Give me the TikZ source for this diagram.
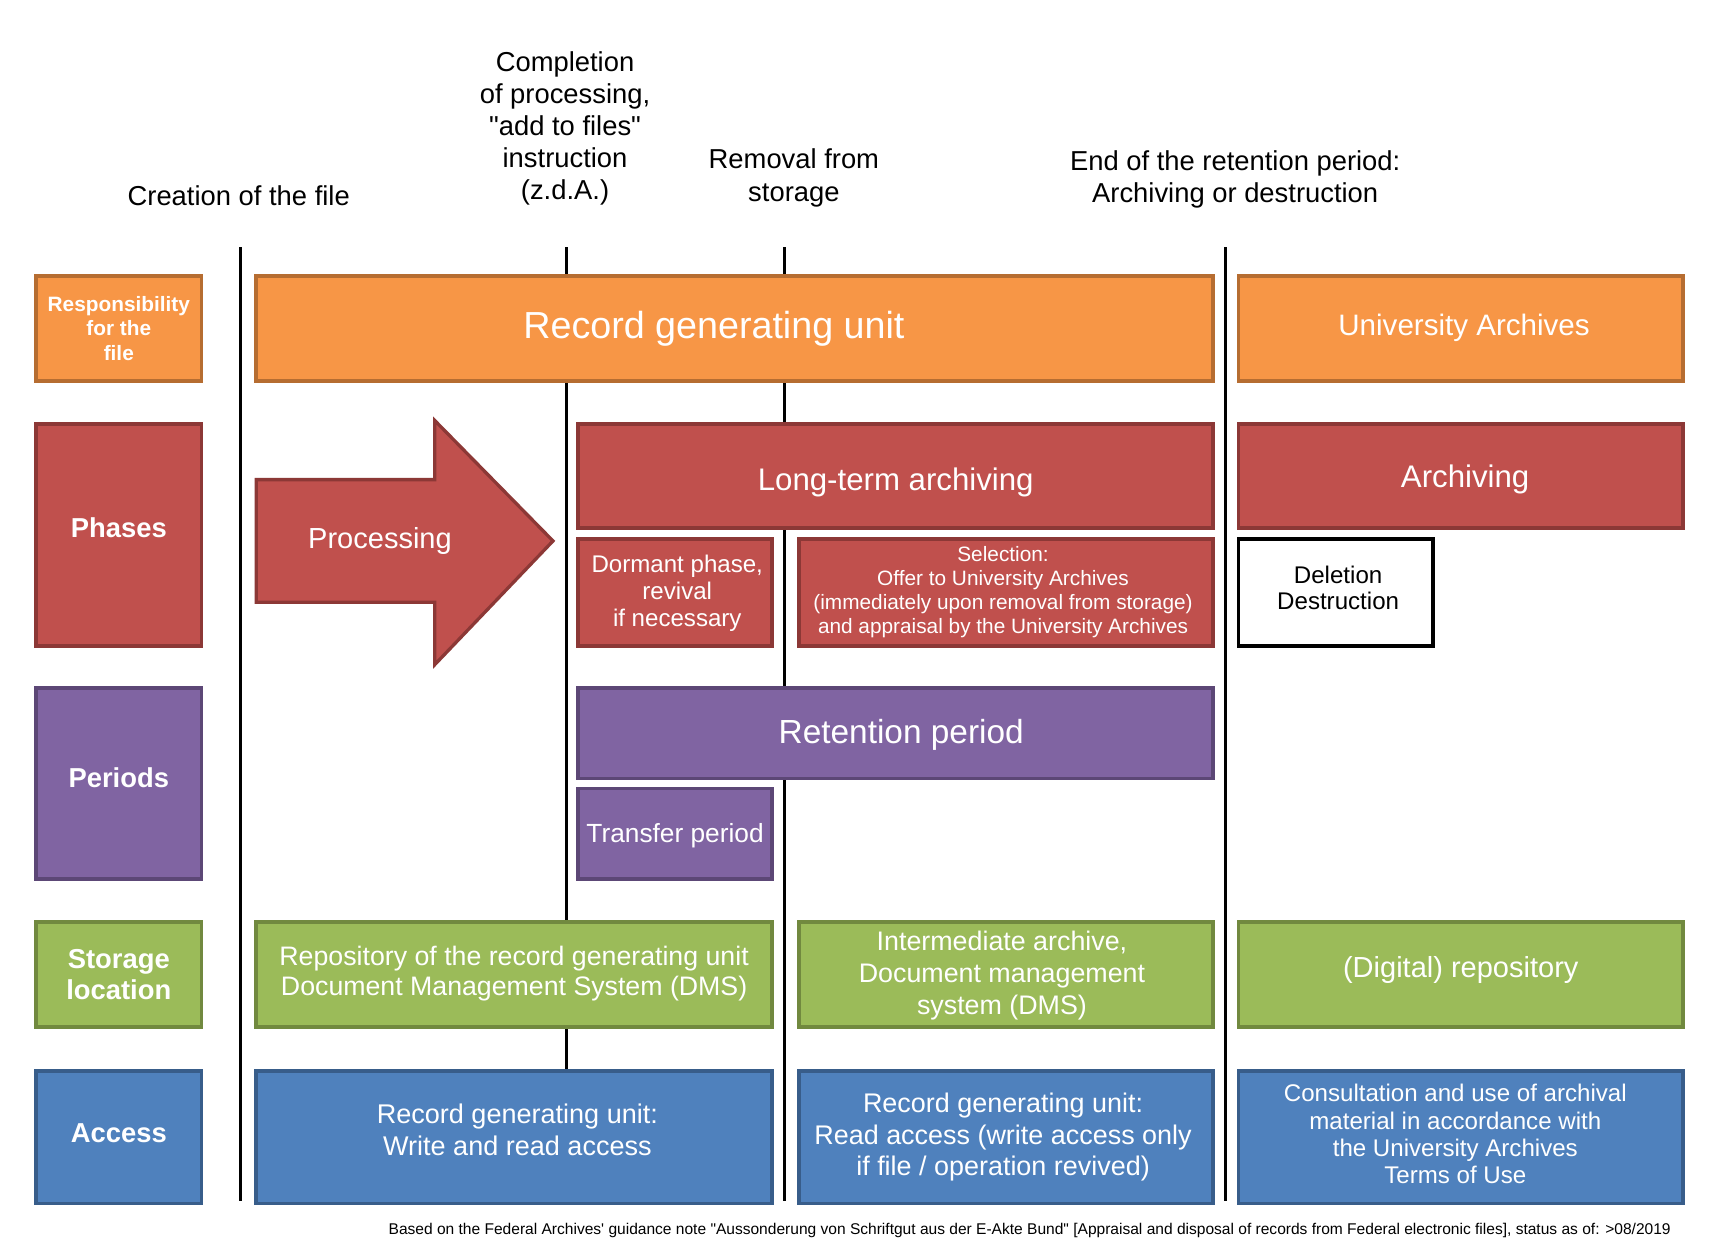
\documentclass[tikz,border=0pt]{standalone}
\usepackage{fontspec}
\setmainfont{Liberation Sans}[Ligatures=TeXOff]
\definecolor{orfill}{HTML}{F79646}
\definecolor{ordraw}{HTML}{B66D31}
\definecolor{rdfill}{HTML}{C0504D}
\definecolor{rddraw}{HTML}{8C3836}
\definecolor{pufill}{HTML}{8064A2}
\definecolor{pudraw}{HTML}{5C4776}
\definecolor{grfill}{HTML}{9BBB59}
\definecolor{grdraw}{HTML}{71893F}
\definecolor{blfill}{HTML}{4F81BD}
\definecolor{bldraw}{HTML}{385D8A}
\newcommand{\fs}[2]{\fontsize{#1}{#2}\selectfont}
\tikzset{
  basebox/.style={draw, line width=3.5pt, inner sep=0pt, align=center, text=white},
  orbox/.style={basebox, fill=orfill, draw=ordraw},
  rdbox/.style={basebox, fill=rdfill, draw=rddraw},
  pubox/.style={basebox, fill=pufill, draw=pudraw},
  grbox/.style={basebox, fill=grfill, draw=grdraw},
  blbox/.style={basebox, fill=blfill, draw=bldraw},
  wtext/.style={inner sep=0pt, align=center, text=white},
  rowlabel/.style={font=\bfseries\fs{25}{29}},
  header/.style={align=center, font=\fs{25}{29.3}, inner sep=0pt},
  timeline/.style={line width=2.8pt, black},
}
\begin{document}
\begin{tikzpicture}[x=1pt,y=-1pt]
\useasboundingbox (0,0) rectangle (1568,1150.6);
\fill[white] (0,0) rectangle (1568,1150.6);

% header texts
\node[header] (h1) at (218,179) {Creation of the file};
\node[header] (h2) at (516,117.5) {Completion\\of processing,\\"add to files"\\instruction\\(z.d.A.)};
\node[header] (h3) at (725,162.5) {Removal from\\storage};
\node[header] (h4) at (1128,163.5) {End of the retention period:\\Archiving or destruction};

% time lines
\coordinate (l1t) at (220,226); \coordinate (l1b) at (220,1097);
\coordinate (l2t) at (517,226); \coordinate (l2b) at (517,1000);
\coordinate (l3t) at (716,226); \coordinate (l3b) at (716,1097);
\coordinate (l4t) at (1119,226); \coordinate (l4b) at (1119,1097);
\draw[timeline] (l1t) -- (l1b);
\draw[timeline] (l2t) -- (l2b);
\draw[timeline] (l3t) -- (l3b);
\draw[timeline] (l4t) -- (l4b);

% row 1: responsibility
\node[orbox, minimum width=151pt, minimum height=96pt, font=\bfseries\fs{19}{22}] (resp) at (108.5,300) {Responsibility\\for the\\file};
\node[orbox, minimum width=874pt, minimum height=96pt] (rgu) at (671,300) {};
\node[wtext, font=\fs{34.4}{38}] (rgut) at ([xshift=-19pt]rgu.center) {Record generating unit};
\node[orbox, minimum width=406pt, minimum height=96pt] (ua) at (1334,300) {};
\node[wtext, font=\fs{27}{32}] (uat) at ([xshift=3pt,yshift=1pt]ua.center) {University Archives};

% row 2: phases
\node[rdbox, minimum width=151pt, minimum height=203pt] (phases) at (108.5,488.5) {};
\node[wtext, rowlabel] (phasest) at ([yshift=6.5pt]phases.center) {Phases};
\draw[rdbox, line width=3pt] (234,438) -- (397,438) -- (397,384) -- (505,494) -- (397,607) -- (397,550) -- (234,550) -- cycle;
\node[wtext, font=\fs{26.5}{30}] (proc) at (347,494) {Processing};
\node[rdbox, minimum width=580pt, minimum height=95pt] (lta) at (818,434.5) {};
\node[wtext, font=\fs{28.5}{33}] (ltat) at ([yshift=-6pt]lta.center) {Long-term archiving};
\node[rdbox, minimum width=406pt, minimum height=95pt] (arch) at (1334,434.5) {};
\node[wtext, font=\fs{28.5}{33}] (archt) at ([xshift=4pt,yshift=-3pt]arch.center) {Archiving};
\node[rdbox, minimum width=177pt, minimum height=98pt] (dorm) at (616.5,541) {};
\node[wtext, font=\fs{22}{24.5}] (dormt) at ([xshift=2pt,yshift=-1pt]dorm.center) {Dormant phase,\\revival\\if necessary};
\node[rdbox, minimum width=378pt, minimum height=98pt] (sel) at (919,541) {};
\node[wtext, font=\fs{19}{22}] (selt) at ([xshift=-3pt]sel.center) {Selection:\\Offer to University Archives\\(immediately upon removal from storage)\\and appraisal by the University Archives};
\node[basebox, draw=black, fill=white, minimum width=178pt, minimum height=98pt] (del) at (1220,541) {};
\node[inner sep=0pt, align=center, font=\fs{22}{24}] (delt) at ([xshift=2pt,yshift=4pt]del.center) {Deletion\\Destruction};

% row 3: periods
\node[pubox, minimum width=151pt, minimum height=175pt] (periods) at (108.5,715.5) {};
\node[wtext, rowlabel] (periodst) at ([yshift=5pt]periods.center) {Periods};
\node[pubox, minimum width=580pt, minimum height=83pt] (ret) at (818,669.5) {};
\node[wtext, font=\fs{30.5}{35}] (rett) at ([xshift=5pt,yshift=-2pt]ret.center) {Retention period};
\node[pubox, minimum width=177pt, minimum height=83pt] (trans) at (616.5,761.5) {};
\node[wtext, font=\fs{24}{28}] (transt) at ([yshift=-2pt]trans.center) {Transfer period};

% row 4: storage
\node[grbox, minimum width=151pt, minimum height=96pt, rowlabel] (storage) at (108.5,890) {Storage\\location};
\node[grbox, minimum width=471pt, minimum height=96pt] (repo) at (469.5,890) {};
\node[wtext, font=\fs{24.4}{28}] (repot) at ([yshift=1pt]repo.center) {Repository of the record generating unit\\Document Management System (DMS)};
\node[grbox, minimum width=378pt, minimum height=96pt] (inter) at (919,890) {};
\node[wtext, font=\fs{24.5}{29}] (intert) at ([xshift=-4pt,yshift=-1pt]inter.center) {Intermediate archive,\\Document management\\system (DMS)};
\node[grbox, minimum width=406pt, minimum height=96pt] (digi) at (1334,890) {};
\node[wtext, font=\fs{26.5}{31}] (digit) at ([yshift=4pt]digi.center) {(Digital) repository};

% row 5: access
\node[blbox, minimum width=151pt, minimum height=121pt] (access) at (108.5,1038.5) {};
\node[wtext, rowlabel] (accesst) at ([yshift=4pt]access.center) {Access};
\node[blbox, minimum width=471pt, minimum height=121pt] (acc1) at (469.5,1038.5) {};
\node[wtext, font=\fs{24.7}{29}] (acc1t) at ([xshift=3pt,yshift=7pt]acc1.center) {Record generating unit:\\Write and read access};
\node[blbox, minimum width=378pt, minimum height=121pt] (acc2) at (919,1038.5) {};
\node[wtext, font=\fs{24.6}{29}] (acc2t) at ([xshift=-3pt]acc2.center) {Record generating unit:\\Read access (write access only\\if file / operation revived)};
\node[blbox, minimum width=406pt, minimum height=121pt] (acc3) at (1334,1038.5) {};
\node[wtext, font=\fs{22}{24.7}] (acc3t) at ([xshift=-5pt,yshift=3pt]acc3.center) {Consultation and use of archival\\material in accordance with\\the University Archives\\Terms of Use};

% footnote
\node[anchor=east, inner sep=0pt, font=\fs{14.2}{16}] (foot) at (1526,1124) {Based on the Federal Archives' guidance note "Aussonderung von Schriftgut aus der E-Akte Bund" [Appraisal and disposal of records from Federal electronic files], status as of: >08/2019};
\end{tikzpicture}
\end{document}
